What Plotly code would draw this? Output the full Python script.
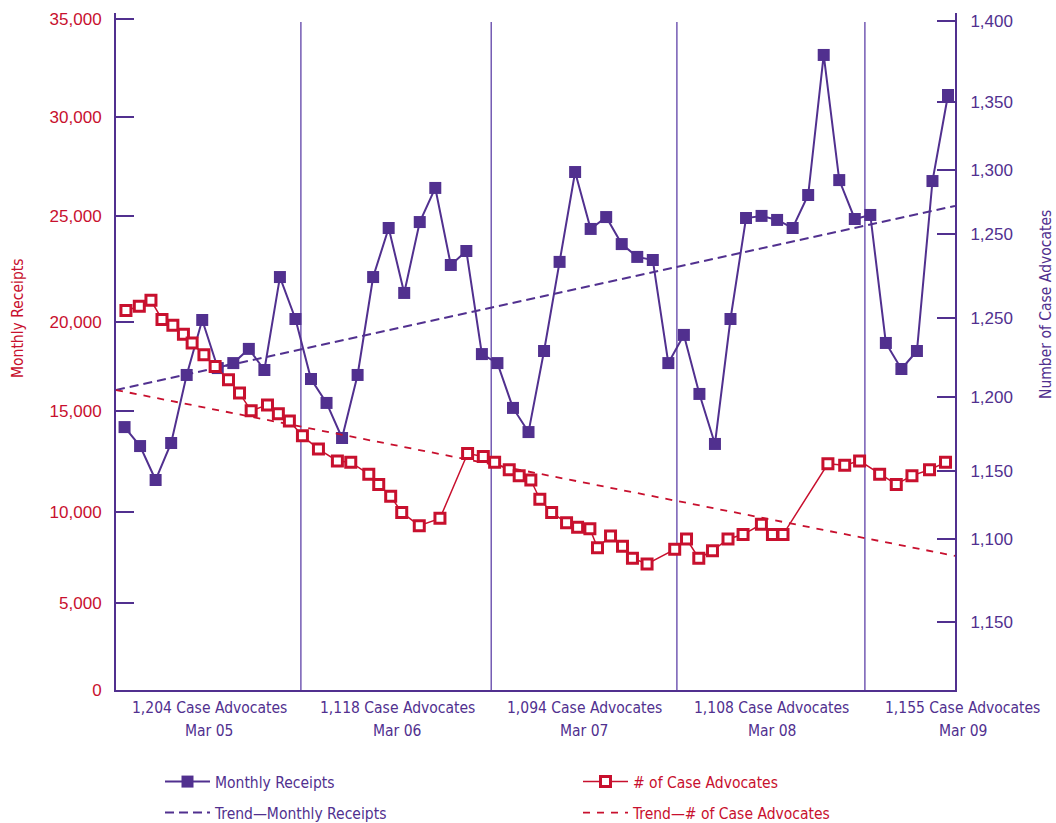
import plotly.graph_objects as go

# ---- data -------------------------------------------------------------
# Monthly receipts, one value per month (54 months)
receipts = [
    13720, 12730, 10960, 12890, 16440, 19310, 16800, 17060, 17800, 16700,
    21550, 19360, 16230, 14980, 13150, 16440, 21550, 24110, 20720, 24420,
    26200, 22180, 22910, 17530, 17060, 14720, 13460, 17690, 22340, 27030,
    24060, 24680, 23270, 22600, 22440, 17060, 18530, 15450, 12840, 19360,
    24630, 24740, 24530, 24110, 25830, 33140, 26610, 24580, 24790, 18110,
    16750, 17690, 26560, 31050,
]
receipt_month = list(range(len(receipts)))

# Number of case advocates, recorded on its own (irregular) dates, in month units
advocate_month = [
    0.09, 0.95, 1.70, 2.41, 3.11, 3.79, 4.35, 5.11, 5.83, 6.69,
    7.40, 8.15, 9.20, 9.90, 10.61, 11.45, 12.48, 13.70, 14.56, 15.72,
    16.36, 17.13, 17.84, 18.97, 20.30, 22.08, 23.09, 23.82, 24.76, 25.40,
    26.15, 26.73, 27.49, 28.45, 29.16, 29.95, 30.44, 31.28, 32.05, 32.69,
    33.63, 35.41, 36.17, 36.96, 37.84, 38.84, 39.81, 40.99, 41.70, 42.38,
    45.27, 46.35, 47.31, 48.60, 49.67, 50.68, 51.81, 52.84,
]
advocates = [
    1255, 1258, 1262, 1249, 1245, 1239, 1233, 1225, 1217, 1208,
    1199, 1187, 1191, 1185, 1180, 1170, 1161, 1153, 1152, 1144,
    1137, 1129, 1118, 1109, 1114, 1158, 1156, 1152, 1147, 1143,
    1140, 1127, 1118, 1111, 1108, 1107, 1094, 1102, 1095, 1087,
    1083, 1093, 1100, 1087, 1092, 1100, 1103, 1110, 1103, 1103,
    1151, 1150, 1153, 1144, 1137, 1143, 1147, 1152,
]

# Linear trend lines (value at the start and end of the period)
trend_month = [-0.55, 53.45]
trend_receipts = [15660, 25260]
trend_advocates = [1201.1, 1088.5]

# Year-end headcount and month labels along the bottom
year_counts = ["1,204", "1,118", "1,094", "1,108", "1,155"]
year_months = ["Mar 05", "Mar 06", "Mar 07", "Mar 08", "Mar 09"]

# Axis scale labels as printed
left_tick_text = ["0", "5,000", "10,000", "15,000", "20,000", "25,000", "30,000", "35,000"]
right_tick_text = ["1,150", "1,100", "1,150", "1,200", "1,250", "1,250", "1,300", "1,350", "1,400"]

# ---- layout helpers ---------------------------------------------------
left_tick_vals = [0, 4524, 9273, 14559, 19219, 24751, 29886, 35000]
right_tick_vals = [1043.7, 1100.0, 1146.2, 1196.4, 1250.0, 1307.0, 1350.5, 1396.8, 1451.8]
year_label_x = [5.45, 17.55, 29.6, 41.65, 53.95]
year_dividers = [11.35, 23.6, 35.55, 47.65]
X_RANGE = [-0.55, 53.45]

PURPLE = "#51308f"
RED = "#c8102e"
TEXT_FONT = "DejaVu Sans Condensed, DejaVu Sans, sans-serif"
NUM_FONT = "Liberation Sans, Arial, sans-serif"

fig = go.Figure()

fig.add_trace(go.Scatter(
    x=trend_month, y=trend_receipts, mode="lines", name="Trend\u2014Monthly Receipts",
    line=dict(color=PURPLE, width=2, dash="9px,5px"), legend="legend2",
))
fig.add_trace(go.Scatter(
    x=trend_month, y=trend_advocates, mode="lines", name="Trend\u2014# of Case Advocates",
    line=dict(color=RED, width=1.8, dash="7px,7px"), yaxis="y2", legend="legend4",
))
fig.add_trace(go.Scatter(
    x=receipt_month, y=receipts, mode="lines+markers", name="Monthly Receipts",
    line=dict(color=PURPLE, width=2),
    marker=dict(symbol="square", size=12, color=PURPLE, line=dict(width=0)),
    legend="legend",
))
fig.add_trace(go.Scatter(
    x=advocate_month, y=advocates, mode="lines+markers", name="# of Case Advocates",
    line=dict(color=RED, width=1.5),
    marker=dict(symbol="square", size=10, color="white", line=dict(color=RED, width=3)),
    yaxis="y2", legend="legend3",
))

PLOT_L, PLOT_R, PLOT_T, PLOT_B = 116, 955, 13, 690
W, H = 1056, 823
pw, ph = PLOT_R - PLOT_L, PLOT_B - PLOT_T


def px_x(px):
    return (px - PLOT_L) / pw


def px_y(py):
    return (PLOT_B - py) / ph


def month_to_paper(m):
    return (m - X_RANGE[0]) / (X_RANGE[1] - X_RANGE[0])


shapes = [
    dict(type="line", xref="x", yref="paper", x0=d, x1=d, y0=0, y1=px_y(22),
         line=dict(color="#6a4fae", width=1.4), layer="below")
    for d in year_dividers
]

annotations = []
for count, month, xv in zip(year_counts, year_months, year_label_x):
    for text, yc in ((f"{count} Case Advocates", 708), (month, 731)):
        annotations.append(dict(
            text=text, x=month_to_paper(xv), xref="paper", y=px_y(yc), yref="paper",
            yanchor="middle", xanchor="center", showarrow=False,
            font=dict(family=TEXT_FONT, size=15.5, color=PURPLE)))
annotations.append(dict(
    text="Monthly Receipts", textangle=-90, x=px_x(18), xref="paper", y=px_y(318),
    yref="paper", xanchor="center", yanchor="middle", showarrow=False,
    font=dict(family=TEXT_FONT, size=15.5, color=RED)))
annotations.append(dict(
    text="Number of Case Advocates", textangle=-90, x=px_x(1046), xref="paper",
    y=px_y(305), yref="paper", xanchor="center", yanchor="middle", showarrow=False,
    font=dict(family=TEXT_FONT, size=15.5, color=PURPLE)))


def legend_box(px, py, color):
    # positioned in whole-figure coordinates so the plot margins stay fixed
    return dict(x=px / W, y=1 - py / H, xref="container", yref="container",
                xanchor="left", yanchor="middle",
                bgcolor="rgba(0,0,0,0)", borderwidth=0, itemwidth=45,
                font=dict(family=TEXT_FONT, size=15.5, color=color))


fig.update_layout(
    width=W, height=H,
    margin=dict(l=PLOT_L, r=W - PLOT_R, t=PLOT_T, b=H - PLOT_B, autoexpand=False),
    paper_bgcolor="white", plot_bgcolor="white",
    showlegend=True,
    legend=legend_box(160, 782, PURPLE),
    legend2=legend_box(160, 813, PURPLE),
    legend3=legend_box(578, 782, RED),
    legend4=legend_box(578, 813, RED),
    xaxis=dict(range=X_RANGE, showline=True, linecolor=PURPLE, linewidth=2,
               showticklabels=False, ticks="", showgrid=False, zeroline=False),
    yaxis=dict(range=[0, 35329], tickvals=left_tick_vals, ticktext=left_tick_text,
               ticks="inside", ticklen=18, tickwidth=2, tickcolor=PURPLE,
               showline=True, linecolor=PURPLE, linewidth=2, showgrid=False,
               zeroline=False, ticklabelstandoff=9,
               tickfont=dict(family=NUM_FONT, size=17, color=RED)),
    yaxis2=dict(range=[997.5, 1457.0], overlaying="y", side="right",
                tickvals=right_tick_vals, ticktext=right_tick_text,
                ticks="inside", ticklen=18, tickwidth=2, tickcolor=PURPLE,
                showline=True, linecolor=PURPLE, linewidth=2, showgrid=False,
                zeroline=False, ticklabelstandoff=10,
                tickfont=dict(family=NUM_FONT, size=17, color=PURPLE)),
    shapes=shapes,
    annotations=annotations,
)

fig.write_html("out.html")
